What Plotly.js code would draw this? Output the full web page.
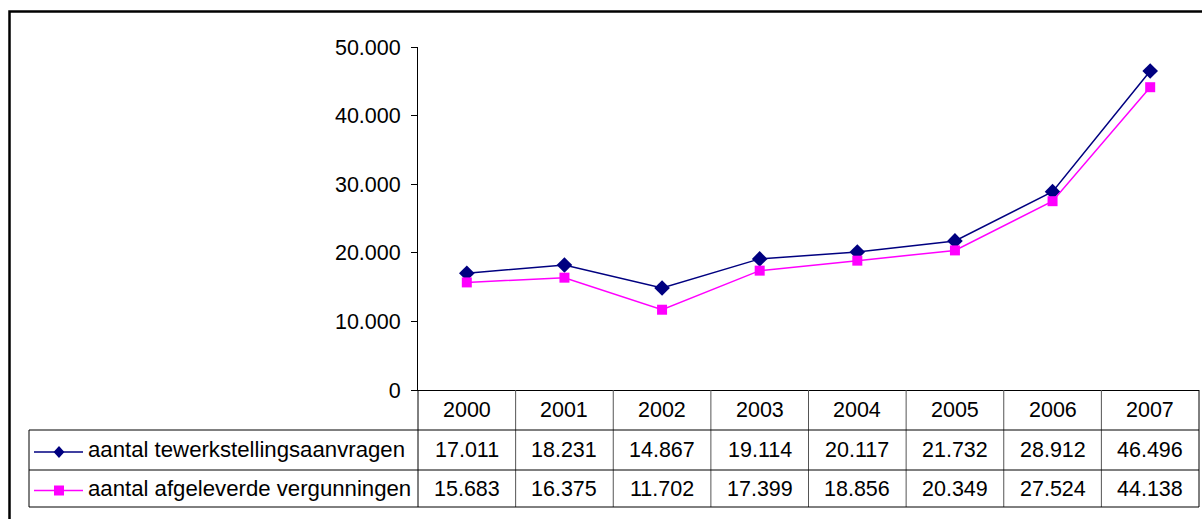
<!DOCTYPE html>
<html>
<head>
<meta charset="utf-8">
<script src="https://cdn.plot.ly/plotly-3.0.1.min.js"></script>
<style>html,body{margin:0;padding:0;background:#fff;}#chart{width:1202px;height:519px;}</style>
</head>
<body>
<div id="chart"></div>
<script>
// ---- data ----
var years = ['2000','2001','2002','2003','2004','2005','2006','2007'];
var seriesNames = ['aantal tewerkstellingsaanvragen', 'aantal afgeleverde vergunningen'];
var aanvragen = [17011, 18231, 14867, 19114, 20117, 21732, 28912, 46496];
var vergunningen = [15683, 16375, 11702, 17399, 18856, 20349, 27524, 44138];
var yTicks = [0, 10000, 20000, 30000, 40000, 50000];

// ---- layout geometry (pixels) ----
var W = 1202, H = 519;
var L = 418, R = 1199, T = 47, B = 390;
var pw = R - L, ph = B - T;
function px(x) { return (x - L) / pw; }
function py(y) { return (B - y) / ph; }
var xr = [-0.5, years.length - 0.5];
function cx(k) { return (k - xr[0]) / (xr[1] - xr[0]); }

var rowTop = [390, 430, 470, 507];
var tableLeft = 29;
var FONT = 'Liberation Sans, Arial, sans-serif';
var FS = 21.5;
var FSL = 22.2;

function fmt(n) { return String(n).replace(/\B(?=(\d{3})+(?!\d))/g, '.'); }

var colors = ['#000080', '#FF00FF'];
var symbols = ['diamond', 'square'];
var allSeries = [aanvragen, vergunningen];

var traces = allSeries.map(function (vals, i) {
  return {
    type: 'scatter', mode: 'lines+markers',
    x: years.map(function (_, k) { return k; }), y: vals,
    name: seriesNames[i],
    line: { color: colors[i], width: 1.5 },
    marker: { color: colors[i], symbol: symbols[i], size: i === 0 ? 12 : 10, line: { width: 0 } },
    cliponaxis: false, showlegend: false, hoverinfo: 'skip'
  };
});

var shapes = [];
var annotations = [];
var LC = '#000';

// outer chart frame
shapes.push({ type: 'rect', xref: 'paper', yref: 'paper', x0: px(9.5), x1: px(1215), y0: py(11.5), y1: py(535), line: { color: '#000', width: 2.5 } });

// table vertical lines (year columns)
for (var k = 0; k <= years.length; k++) {
  var xk = cx(k - 0.5);
  shapes.push({ type: 'line', xref: 'paper', yref: 'paper', x0: xk, x1: xk, y0: py(rowTop[0]), y1: py(rowTop[3]), line: { color: (k === 0 || k === years.length) ? LC : '#555', width: 1 } });
}
// legend column left border
shapes.push({ type: 'line', xref: 'paper', yref: 'paper', x0: px(tableLeft), x1: px(tableLeft), y0: py(rowTop[1]), y1: py(rowTop[3]), line: { color: LC, width: 1 } });
// horizontal lines
[1, 2, 3].forEach(function (r) {
  shapes.push({ type: 'line', xref: 'paper', yref: 'paper', x0: px(tableLeft), x1: cx(xr[1]), y0: py(rowTop[r]), y1: py(rowTop[r]), line: { color: LC, width: 1 } });
});

// header row: years
years.forEach(function (yr, k) {
  annotations.push({ xref: 'x', yref: 'paper', x: k, y: py((rowTop[0] + rowTop[1]) / 2), text: yr, showarrow: false, xanchor: 'center', yanchor: 'middle', font: { family: FONT, size: FS, color: '#000' } });
});

// data rows
allSeries.forEach(function (vals, i) {
  var yc = (rowTop[i + 1] + rowTop[i + 2]) / 2;
  vals.forEach(function (v, k) {
    annotations.push({ xref: 'x', yref: 'paper', x: k, y: py(yc), text: fmt(v), showarrow: false, xanchor: 'center', yanchor: 'middle', font: { family: FONT, size: FS, color: '#000' } });
  });
  // legend label
  annotations.push({ xref: 'paper', yref: 'paper', x: px(86), y: py(yc), text: seriesNames[i], showarrow: false, xanchor: 'left', yanchor: 'middle', font: { family: FONT, size: FSL, color: '#000' } });
  // legend key line
  var ky = yc + 2;
  shapes.push({ type: 'line', xref: 'paper', yref: 'paper', x0: px(34), x1: px(83), y0: py(ky), y1: py(ky), line: { color: colors[i], width: 1.5 } });
  // legend key marker
  if (i === 0) {
    var s = 6;
    var path = 'M' + px(59) + ',' + py(ky - s) + ' L' + px(59 + s * 0.9) + ',' + py(ky) + ' L' + px(59) + ',' + py(ky + s) + ' L' + px(59 - s * 0.9) + ',' + py(ky) + ' Z';
    shapes.push({ type: 'path', xref: 'paper', yref: 'paper', path: path, fillcolor: colors[i], line: { width: 0 } });
  } else {
    var h = 5;
    shapes.push({ type: 'rect', xref: 'paper', yref: 'paper', x0: px(59 - h), x1: px(59 + h), y0: py(ky - h), y1: py(ky + h), fillcolor: colors[i], line: { width: 0 } });
  }
});

var layout = {
  width: W, height: H, autosize: false,
  margin: { l: L, r: W - R, t: T, b: H - B, pad: 0 },
  paper_bgcolor: '#fff', plot_bgcolor: '#fff',
  separators: ',.',
  showlegend: false,
  xaxis: {
    range: xr, showgrid: false, zeroline: false, showline: true, linecolor: '#000', linewidth: 1,
    showticklabels: false, ticks: '', fixedrange: true
  },
  yaxis: {
    range: [0, 50000], tickvals: yTicks, ticktext: yTicks.map(fmt),
    showgrid: false, zeroline: false, showline: true, linecolor: '#000', linewidth: 1,
    ticks: 'outside', ticklen: 6, tickcolor: '#000', tickwidth: 1, ticklabelstandoff: 6,
    tickfont: { family: FONT, size: FS, color: '#000' }, fixedrange: true
  },
  shapes: shapes,
  annotations: annotations
};

Plotly.newPlot('chart', traces, layout, { displayModeBar: false, staticPlot: true });
</script>
</body>
</html>
